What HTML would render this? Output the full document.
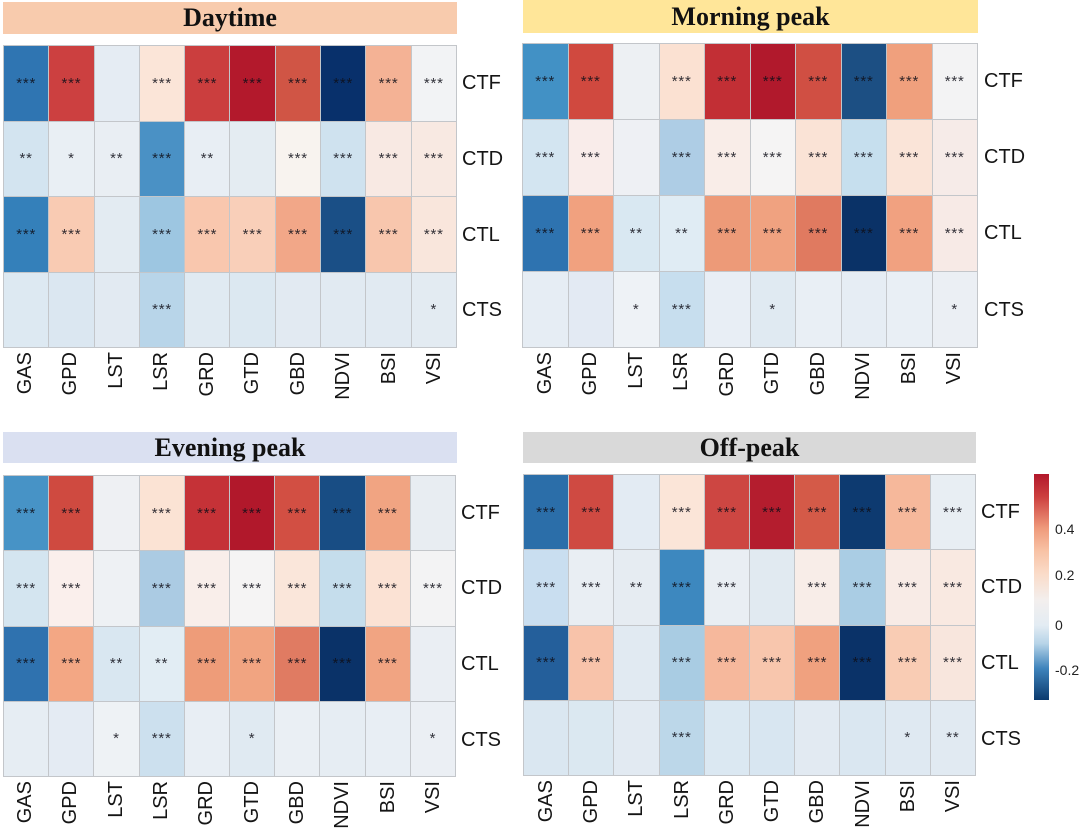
<!DOCTYPE html>
<html>
<head>
<meta charset="utf-8">
<style>
  html,body{margin:0;padding:0;background:#fff;}
  body{width:1080px;height:831px;position:relative;overflow:hidden;font-family:"Liberation Sans",Arial,sans-serif;}
  .title{position:absolute;display:flex;align-items:center;justify-content:center;font-family:"Liberation Serif","Times New Roman",serif;font-weight:bold;font-size:26px;color:#111;}
  .grid{position:absolute;display:grid;grid-template-columns:repeat(10,1fr);grid-template-rows:repeat(4,1fr);gap:1px;background:#c3c6ca;border:1px solid #c3c6ca;box-sizing:border-box;}
  .grid div{display:flex;align-items:center;justify-content:center;font-size:15px;letter-spacing:0.8px;color:rgba(15,15,25,0.85);line-height:1;}
  .rl{position:absolute;font-size:20px;color:#151515;transform:translateY(-50%);line-height:20px;white-space:nowrap;}
  .xl{position:absolute;font-size:20px;color:#151515;line-height:20px;white-space:nowrap;transform-origin:0 0;transform:rotate(-90deg) translate(-100%,-50%);}
  .cb{position:absolute;left:1034px;top:474px;width:15px;height:226px;background:linear-gradient(to bottom,#b2182b 0%,#cc3f3f 10%,#ef9a7b 24%,#f8c2a5 34%,#fadbc8 44%,#f3efee 56%,#e3ecf3 67%,#b7d4e8 75%,#3f84bc 86%,#0b3a6e 100%);}
  .tk{position:absolute;left:1055px;font-size:14px;color:#222;transform:translateY(-50%);line-height:14px;}
</style>
</head>
<body>

<!-- ============ Daytime ============ -->
<div class="title" style="left:3px;top:2px;width:454px;height:32px;background:#f8cbad;">Daytime</div>
<div class="grid" style="left:3px;top:45px;width:454px;height:303px;">
  <div style="background:#2f75b2">***</div><div style="background:#cc4040">***</div><div style="background:#e5ecf3"></div><div style="background:#fbe5d8">***</div><div style="background:#cb3e3e">***</div><div style="background:#b3192c">***</div><div style="background:#d05545">***</div><div style="background:#08306b">***</div><div style="background:#f4b295">***</div><div style="background:#f2f3f5">***</div>
  <div style="background:#d3e4f0">**</div><div style="background:#e9eff4">*</div><div style="background:#e9eef3">**</div><div style="background:#4a91c5">***</div><div style="background:#e8eef4">**</div><div style="background:#e4ecf2"></div><div style="background:#f8f3ef">***</div><div style="background:#cfe2ef">***</div><div style="background:#f8e9e3">***</div><div style="background:#f8e9e2">***</div>
  <div style="background:#3480ba">***</div><div style="background:#f9cbb3">***</div><div style="background:#e3ebf2"></div><div style="background:#9dc6e1">***</div><div style="background:#f9c7ae">***</div><div style="background:#f9cfb9">***</div><div style="background:#f2a788">***</div><div style="background:#1a4f86">***</div><div style="background:#f8c6ad">***</div><div style="background:#f9e6dc">***</div>
  <div style="background:#dde9f2"></div><div style="background:#dbe7f1"></div><div style="background:#e2eaf2"></div><div style="background:#b8d5e9">***</div><div style="background:#e0eaf2"></div><div style="background:#dce8f1"></div><div style="background:#e2eaf2"></div><div style="background:#e1eaf2"></div><div style="background:#e1eaf2"></div><div style="background:#e3ebf2">*</div>
</div>
<div class="rl" style="left:462px;top:83px;">CTF</div>
<div class="rl" style="left:462px;top:159px;">CTD</div>
<div class="rl" style="left:462px;top:235px;">CTL</div>
<div class="rl" style="left:462px;top:310px;">CTS</div>
<div class="xl" style="left:25px;top:352px;">GAS</div>
<div class="xl" style="left:70px;top:352px;">GPD</div>
<div class="xl" style="left:116px;top:352px;">LST</div>
<div class="xl" style="left:161px;top:352px;">LSR</div>
<div class="xl" style="left:207px;top:352px;">GRD</div>
<div class="xl" style="left:252px;top:352px;">GTD</div>
<div class="xl" style="left:298px;top:352px;">GBD</div>
<div class="xl" style="left:343px;top:352px;">NDVI</div>
<div class="xl" style="left:389px;top:352px;">BSI</div>
<div class="xl" style="left:434px;top:352px;">VSI</div>

<!-- ============ Morning peak ============ -->
<div class="title" style="left:523px;top:0px;width:455px;height:33px;background:#ffe699;">Morning peak</div>
<div class="grid" style="left:522px;top:43px;width:456px;height:305px;">
  <div style="background:#4291c5">***</div><div style="background:#d0493f">***</div><div style="background:#edf0f3"></div><div style="background:#fbe1d2">***</div><div style="background:#c22f35">***</div><div style="background:#b1192c">***</div><div style="background:#d04f43">***</div><div style="background:#1c4f83">***</div><div style="background:#f0a07d">***</div><div style="background:#f3f3f4">***</div>
  <div style="background:#d3e5f1">***</div><div style="background:#f9ecea">***</div><div style="background:#eef0f4"></div><div style="background:#aecde5">***</div><div style="background:#f9ede8">***</div><div style="background:#f5f4f4">***</div><div style="background:#fae3d6">***</div><div style="background:#c6dfee">***</div><div style="background:#fae4d8">***</div><div style="background:#f6ebe8">***</div>
  <div style="background:#2e73b0">***</div><div style="background:#f1a17f">***</div><div style="background:#d9e8f2">**</div><div style="background:#e0ecf4">**</div><div style="background:#ed9a78">***</div><div style="background:#f0a280">***</div><div style="background:#e07a60">***</div><div style="background:#0a3267">***</div><div style="background:#f1a180">***</div><div style="background:#f7eae6">***</div>
  <div style="background:#e6edf4"></div><div style="background:#e3eaf3"></div><div style="background:#eef2f6">*</div><div style="background:#c7deee">***</div><div style="background:#e8eef5"></div><div style="background:#e0eaf2">*</div><div style="background:#e9eff5"></div><div style="background:#e6edf4"></div><div style="background:#e9eff5"></div><div style="background:#ebeff4">*</div>
</div>
<div class="rl" style="left:984px;top:81px;">CTF</div>
<div class="rl" style="left:984px;top:157px;">CTD</div>
<div class="rl" style="left:984px;top:233px;">CTL</div>
<div class="rl" style="left:984px;top:310px;">CTS</div>
<div class="xl" style="left:545px;top:352px;">GAS</div>
<div class="xl" style="left:590px;top:352px;">GPD</div>
<div class="xl" style="left:636px;top:352px;">LST</div>
<div class="xl" style="left:681px;top:352px;">LSR</div>
<div class="xl" style="left:727px;top:352px;">GRD</div>
<div class="xl" style="left:772px;top:352px;">GTD</div>
<div class="xl" style="left:818px;top:352px;">GBD</div>
<div class="xl" style="left:863px;top:352px;">NDVI</div>
<div class="xl" style="left:909px;top:352px;">BSI</div>
<div class="xl" style="left:954px;top:352px;">VSI</div>

<!-- ============ Evening peak ============ -->
<div class="title" style="left:3px;top:432px;width:454px;height:31px;background:#dae0f1;">Evening peak</div>
<div class="grid" style="left:3px;top:475px;width:453px;height:302px;">
  <div style="background:#4793c6">***</div><div style="background:#cf4a40">***</div><div style="background:#eef0f3"></div><div style="background:#fbe3d4">***</div><div style="background:#c53237">***</div><div style="background:#b1182b">***</div><div style="background:#d24f43">***</div><div style="background:#184d84">***</div><div style="background:#f1a482">***</div><div style="background:#e8edf2"></div>
  <div style="background:#d4e5f0">***</div><div style="background:#faefec">***</div><div style="background:#eef1f4"></div><div style="background:#abcbe3">***</div><div style="background:#f9eeea">***</div><div style="background:#f5f4f4">***</div><div style="background:#fae6da">***</div><div style="background:#c5ddec">***</div><div style="background:#fbe2d4">***</div><div style="background:#f3f3f4">***</div>
  <div style="background:#2f72af">***</div><div style="background:#f3a784">***</div><div style="background:#d9e7f1">**</div><div style="background:#e2edf4">**</div><div style="background:#ee9c79">***</div><div style="background:#f1a481">***</div><div style="background:#e07b62">***</div><div style="background:#0a3268">***</div><div style="background:#f1a482">***</div><div style="background:#eaeef3"></div>
  <div style="background:#e6edf3"></div><div style="background:#e4ebf3"></div><div style="background:#eef2f5">*</div><div style="background:#cce0ee">***</div><div style="background:#e8eef4"></div><div style="background:#e0eaf2">*</div><div style="background:#eaeff4"></div><div style="background:#e6edf3"></div><div style="background:#e8eef4"></div><div style="background:#ebeff4">*</div>
</div>
<div class="rl" style="left:461px;top:513px;">CTF</div>
<div class="rl" style="left:461px;top:588px;">CTD</div>
<div class="rl" style="left:461px;top:664px;">CTL</div>
<div class="rl" style="left:461px;top:740px;">CTS</div>
<div class="xl" style="left:25px;top:781px;">GAS</div>
<div class="xl" style="left:70px;top:781px;">GPD</div>
<div class="xl" style="left:116px;top:781px;">LST</div>
<div class="xl" style="left:161px;top:781px;">LSR</div>
<div class="xl" style="left:206px;top:781px;">GRD</div>
<div class="xl" style="left:252px;top:781px;">GTD</div>
<div class="xl" style="left:297px;top:781px;">GBD</div>
<div class="xl" style="left:342px;top:781px;">NDVI</div>
<div class="xl" style="left:388px;top:781px;">BSI</div>
<div class="xl" style="left:433px;top:781px;">VSI</div>

<!-- ============ Off-peak ============ -->
<div class="title" style="left:523px;top:432px;width:453px;height:31px;background:#d9d9d9;">Off-peak</div>
<div class="grid" style="left:523px;top:474px;width:453px;height:302px;">
  <div style="background:#2b6ea9">***</div><div style="background:#cf4a42">***</div><div style="background:#e3ebf3"></div><div style="background:#fbe5d8">***</div><div style="background:#cd4642">***</div><div style="background:#b41d2e">***</div><div style="background:#d45a48">***</div><div style="background:#0d3a70">***</div><div style="background:#f6b89b">***</div><div style="background:#e8eef3">***</div>
  <div style="background:#c9def0">***</div><div style="background:#e9eef3">***</div><div style="background:#e6ecf2">**</div><div style="background:#3d88bf">***</div><div style="background:#e9eef3">***</div><div style="background:#e1eaf1"></div><div style="background:#f8ede8">***</div><div style="background:#aacde4">***</div><div style="background:#f8ebe6">***</div><div style="background:#f9e9e1">***</div>
  <div style="background:#245f9b">***</div><div style="background:#f8c3aa">***</div><div style="background:#e1eaf2"></div><div style="background:#a9cce3">***</div><div style="background:#f6b89c">***</div><div style="background:#f8c6ad">***</div><div style="background:#f0a17f">***</div><div style="background:#0a3268">***</div><div style="background:#f9ccb4">***</div><div style="background:#f8e6dd">***</div>
  <div style="background:#dae7f1"></div><div style="background:#dbe8f1"></div><div style="background:#e2eaf2"></div><div style="background:#bcd7e9">***</div><div style="background:#dbe8f2"></div><div style="background:#d8e6f1"></div><div style="background:#e2eaf2"></div><div style="background:#dae7f1"></div><div style="background:#dfe9f2">*</div><div style="background:#e1eaf2">**</div>
</div>
<div class="rl" style="left:981px;top:512px;">CTF</div>
<div class="rl" style="left:981px;top:587px;">CTD</div>
<div class="rl" style="left:981px;top:663px;">CTL</div>
<div class="rl" style="left:981px;top:739px;">CTS</div>
<div class="xl" style="left:546px;top:780px;">GAS</div>
<div class="xl" style="left:591px;top:780px;">GPD</div>
<div class="xl" style="left:636px;top:780px;">LST</div>
<div class="xl" style="left:682px;top:780px;">LSR</div>
<div class="xl" style="left:727px;top:780px;">GRD</div>
<div class="xl" style="left:772px;top:780px;">GTD</div>
<div class="xl" style="left:817px;top:780px;">GBD</div>
<div class="xl" style="left:863px;top:780px;">NDVI</div>
<div class="xl" style="left:908px;top:780px;">BSI</div>
<div class="xl" style="left:953px;top:780px;">VSI</div>

<!-- ============ Colorbar ============ -->
<div class="cb"></div>
<div class="tk" style="top:529px;">0.4</div>
<div class="tk" style="top:575px;">0.2</div>
<div class="tk" style="top:625px;">0</div>
<div class="tk" style="top:670px;">-0.2</div>

</body>
</html>
